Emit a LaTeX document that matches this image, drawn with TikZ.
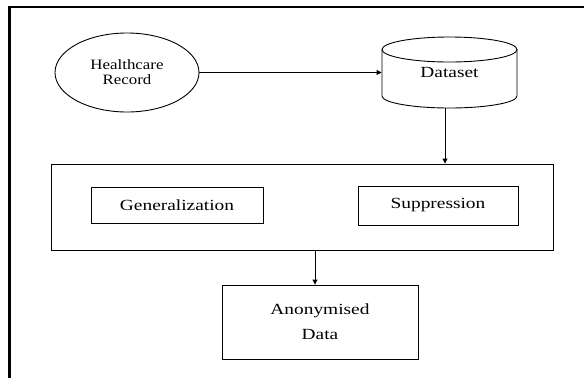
\documentclass[tikz,border=0pt]{standalone}
\usepackage{fontspec}
\setmainfont{Liberation Serif}
\newfontfamily\boxfont{Liberation Serif}[FakeStretch=1.25]
\newfontfamily\ellfont{Liberation Serif}[FakeStretch=1.18]
\usetikzlibrary{shapes.geometric,arrows.meta,calc}
\begin{document}
\begin{tikzpicture}[x=1pt,y=-1pt,line width=0.9pt,
  >={Triangle[length=5pt,width=5pt]},
  boxtext/.style={font=\boxfont\fontsize{15.5}{25}\selectfont, text=black, align=center},
  plainbox/.style={draw, rectangle, inner sep=0pt, boxtext}]
\useasboundingbox (0,0) rectangle (584,378);
\draw[line width=2.4pt] (9.5,378) -- (9.5,7) -- (584,7);
% Healthcare record
\node[ellipse, draw, minimum width=144pt, minimum height=79pt, inner sep=0pt, align=center,
      font=\ellfont\fontsize{14.3}{15}\selectfont, text=black] (hr) at (127,72.5) {Healthcare\\Record};
% Dataset cylinder
\node[inner sep=0pt, minimum width=135pt, minimum height=71pt, boxtext] (ds) at (449.5,72.5) {Dataset};
\draw (449.5,49.5) ellipse[x radius=67.5pt, y radius=12.5pt];
\draw (382,49.5) -- (382,96) arc[start angle=180,end angle=360,x radius=67.5pt,y radius=12pt] -- (517,49.5);
% process box
\node[draw, rectangle, minimum width=502pt, minimum height=86pt, inner sep=0pt] (proc) at (302,207) {};
\node[plainbox, minimum width=172pt, minimum height=36pt] (gen) at (177,205) {Generalization};
\node[plainbox, minimum width=160pt, minimum height=39pt] (sup) at (438,205.5) {Suppression};
% output
\node[plainbox, minimum width=196pt, minimum height=74pt] (anon) at (320,322) {Anonymised\\Data};
% connectors
\draw[->] (hr.east) -- (ds.west);
\coordinate (dsout) at ($(ds.south)+(-4.5,0)$);
\draw[->] (dsout) -- (dsout |- proc.north);
\coordinate (procout) at ($(proc.south)+(13,0)$);
\draw[->] (procout) -- (procout |- anon.north);
\end{tikzpicture}
\end{document}
